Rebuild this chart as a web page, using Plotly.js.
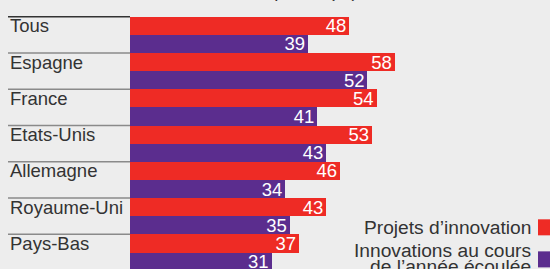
<!DOCTYPE html>
<html><head><meta charset="utf-8">
<script src="https://cdn.plot.ly/plotly-3.0.1.min.js"></script>
<style>html,body{margin:0;padding:0;overflow:hidden;background:#ededed;width:550px;height:269px}
#chart{position:absolute;left:0;top:-20px;width:550px;height:320px}</style>
</head><body><div id="chart"></div>
<script>
const categories = ["Tous","Espagne","France","Etats-Unis","Allemagne","Royaume-Uni","Pays-Bas"];
const projets = [48,58,54,53,46,43,37];
const innovations = [39,52,41,43,34,35,31];
const seriesNames = ["Projets d\u2019innovation","Innovations au cours de l\u2019ann\u00e9e \u00e9coul\u00e9e"];
const titleText = "Taux d\u2019innovation dans les entreprises (%)";

const RED = "#ee2b25", PURPLE = "#5b2d8e", FONT = "Liberation Sans, Arial, sans-serif";
const W = 550, H = 320, L = 130, R = 9, T = 36, B = 26.4;
const plotW = W - L - R, plotH = H - T - B;
const px = x => (x - L) / plotW;            // page x -> paper x
const py = y => (H - B - (y + 20)) / plotH;  // page y -> paper y

const traces = [
  {type:"bar", orientation:"h", y:categories, x:projets, name:seriesNames[0],
   marker:{color:RED}, text:projets.map(String), textposition:"inside", insidetextanchor:"end",
   textangle:0, constraintext:"none", textfont:{color:"#ffffff", size:18.5, family:FONT}, hoverinfo:"none"},
  {type:"bar", orientation:"h", y:categories, x:innovations, name:seriesNames[1],
   marker:{color:PURPLE}, text:innovations.map(String), textposition:"inside", insidetextanchor:"end",
   textangle:0, constraintext:"none", textfont:{color:"#ffffff", size:18.5, family:FONT}, hoverinfo:"none"}
];

const shapes = [];
for (let i = 0; i < categories.length; i++) {
  shapes.push({type:"line", xref:"paper", yref:"y", x0:px(8), x1:0, y0:i-0.5, y1:i-0.5,
    line:{color: i===0 ? "#333333" : "#8a8a8a", width:1.5}});
}
shapes.push({type:"rect", xref:"paper", yref:"paper", x0:px(538), x1:px(554), y0:py(235), y1:py(219),
  fillcolor:RED, line:{width:0}});
shapes.push({type:"rect", xref:"paper", yref:"paper", x0:px(538), x1:px(554), y0:py(267), y1:py(251),
  fillcolor:PURPLE, line:{width:0}});

const annotations = categories.map(c => ({
  xref:"paper", yref:"y", x:px(8), y:c, xanchor:"left", yanchor:"middle", yshift:9,
  text:c, showarrow:false, font:{size:18.5, color:"#333333", family:FONT}
}));
annotations.push({xref:"paper", yref:"paper", x:px(8), y:py(3.5), xanchor:"left", yanchor:"bottom",
  text:titleText, showarrow:false, font:{size:18.5, color:"#333333", family:FONT}});
annotations.push({xref:"paper", yref:"paper", x:px(533), y:py(227), xanchor:"right", yanchor:"middle",
  text:seriesNames[0], showarrow:false, font:{size:19.2, color:"#333333", family:FONT}});
annotations.push({xref:"paper", yref:"paper", x:px(533), y:py(250), xanchor:"right", yanchor:"middle",
  text:"Innovations au cours", showarrow:false, font:{size:19.2, color:"#333333", family:FONT}});
annotations.push({xref:"paper", yref:"paper", x:px(533), y:py(266), xanchor:"right", yanchor:"middle",
  text:"de l\u2019ann\u00e9e \u00e9coul\u00e9e", showarrow:false, font:{size:19.2, color:"#333333", family:FONT}});

const layout = {
  width:W, height:H, margin:{l:L, r:R, t:T, b:B, pad:0},
  paper_bgcolor:"#ededed", plot_bgcolor:"#ededed",
  barmode:"group", bargap:0, bargroupgap:0, showlegend:false,
  xaxis:{range:[0,90], visible:false, fixedrange:true},
  yaxis:{type:"category", autorange:"reversed", showticklabels:false, showgrid:false, zeroline:false,
         showline:false, ticks:"", fixedrange:true},
  shapes:shapes, annotations:annotations, font:{family:FONT}
};
Plotly.newPlot("chart", traces, layout, {displayModeBar:false, staticPlot:true});
</script></body></html>
